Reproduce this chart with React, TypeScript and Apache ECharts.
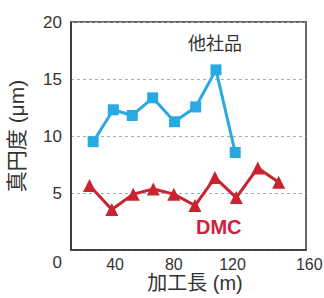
import React, { useEffect, useRef } from "react";
import * as echarts from "echarts";

const otherX = [25.1, 38.8, 51.7, 65.6, 80.5, 94.9, 108.7, 121.8];
const otherY = [9.5, 12.3, 11.8, 13.35, 11.25, 12.55, 15.8, 8.55];
const dmcX = [22.6, 37.8, 52.4, 66, 80, 94.4, 108, 122.5, 137.2, 151.4];
const dmcY = [5.65, 3.55, 4.9, 5.35, 4.9, 3.9, 6.35, 4.6, 7.2, 5.95];
const xTicks = [40, 80, 120, 160];
const yTicks = [0, 5, 10, 15, 20];
const otherName = "他社品";
const dmcName = "DMC";
const xName = "加工長 (m)";
const yName = "真円度 (μm)";

const FONT = "'Liberation Sans', Arial, Helvetica, 'Noto Sans CJK JP', sans-serif";

export default function App() {
  const ref = useRef<HTMLDivElement>(null);
  useEffect(() => {
    if (!ref.current) return;
    const chart = echarts.init(ref.current, undefined, { renderer: "svg" });
    chart.setOption({
      animation: false,
      grid: {
        left: 71,
        right: 18,
        top: 22,
        bottom: 48,
        containLabel: false,
        outerBoundsMode: "none",
        show: true,
        borderColor: "#333",
        borderWidth: 1.5,
        backgroundColor: "transparent",
      },
      xAxis: {
        type: "value",
        min: 10,
        max: 170,
        name: xName,
        nameLocation: "middle",
        nameGap: 23,
        nameMoveOverlap: false,
        nameTextStyle: {
          fontSize: 20,
          lineHeight: 20,
          color: "#333",
          fontFamily: FONT,
          verticalAlign: "top",
          padding: [0, 0, 0, 13],
        },
        axisLine: { show: true, lineStyle: { color: "#333", width: 1.5 } },
        axisTick: { show: false },
        splitLine: { show: false },
        axisLabel: {
          customValues: xTicks,
          fontSize: 16,
          lineHeight: 16,
          color: "#333",
          fontFamily: FONT,
          margin: 6,
          formatter: (v: number) => (v === 160 ? "{e|160}" : String(v)),
          rich: {
            e: { fontSize: 16, lineHeight: 16, color: "#333", fontFamily: FONT, padding: [0, 0, 0, 36] },
          },
        },
      },
      yAxis: {
        type: "value",
        min: 0,
        max: 20,
        interval: 5,
        name: yName,
        nameLocation: "middle",
        nameGap: 44,
        nameMoveOverlap: false,
        nameRotate: 90,
        nameTextStyle: { fontSize: 21, color: "#333", fontFamily: FONT },
        axisLine: { show: true, lineStyle: { color: "#333", width: 1.5 } },
        axisTick: { show: false },
        splitLine: {
          show: true,
          lineStyle: { color: "#aaa", type: [3, 3], width: 1 },
        },
        axisLabel: {
          customValues: yTicks,
          fontSize: 17,
          color: "#333",
          fontFamily: FONT,
          margin: 9,
          formatter: (v: number) => (v === 0 ? "{z|0}" : String(v)),
          rich: {
            z: { fontSize: 17, color: "#333", fontFamily: FONT, padding: [24, 0, 0, 0] },
          },
        },
      },
      series: [
        {
          name: otherName,
          type: "line",
          data: otherX.map((x, i) => [x, otherY[i]]),
          symbol: "rect",
          symbolSize: 11,
          itemStyle: { color: "#27a9e1" },
          lineStyle: { color: "#27a9e1", width: 3 },
          z: 3,
        },
        {
          name: dmcName,
          type: "line",
          data: dmcX.map((x, i) => [x, dmcY[i]]),
          symbol: "triangle",
          symbolSize: 13,
          itemStyle: { color: "#c8232f" },
          lineStyle: { color: "#c8232f", width: 3 },
          z: 3,
        },
      ],
      graphic: [
        {
          type: "text",
          left: 188,
          top: 35,
          style: {
            text: otherName,
            fontSize: 18,
            fill: "#333",
            fontFamily: FONT,
          },
        },
        {
          type: "text",
          left: 196,
          top: 217,
          style: {
            text: dmcName,
            fontSize: 20,
            fontWeight: "bold",
            fill: "#cc2340",
            fontFamily: FONT,
          },
        },
      ],
    });
    return () => chart.dispose();
  }, []);
  return <div ref={ref} style={{ width: 324, height: 298, position: "absolute", left: 0, top: 0 }} />;
}
